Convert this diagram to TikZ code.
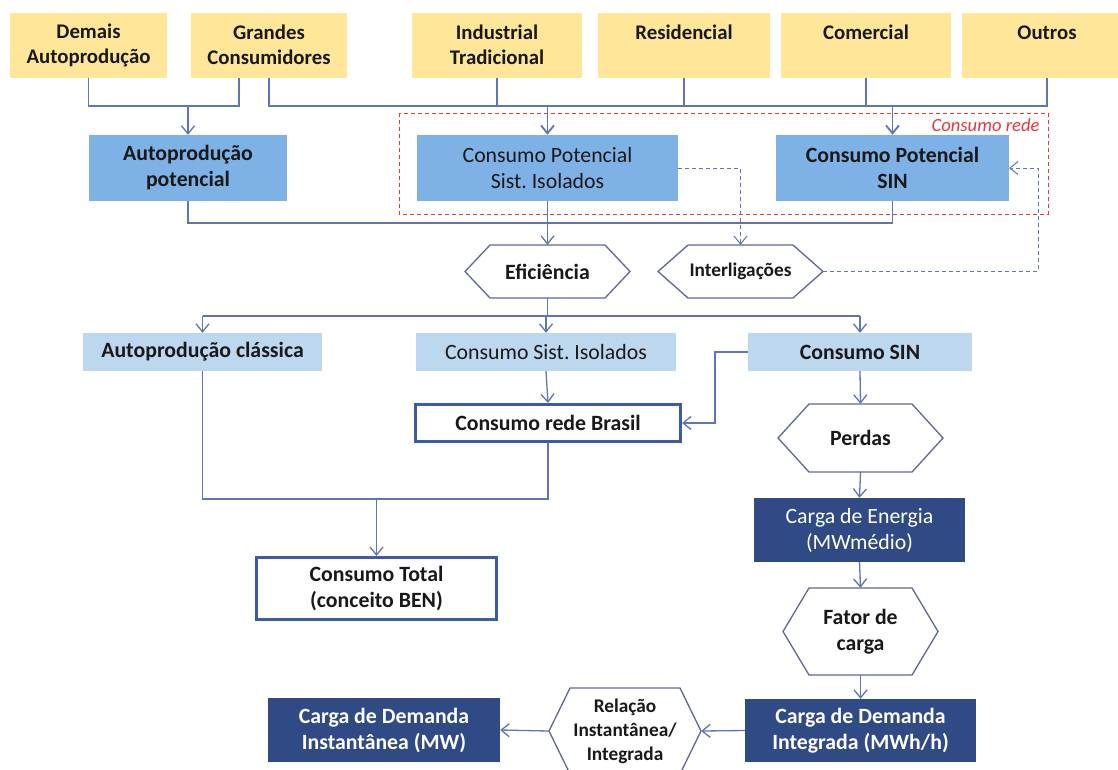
\documentclass[tikz,border=0pt]{standalone}
\usepackage{fontspec}
\setmainfont{Carlito}
\usetikzlibrary{arrows.meta}
\definecolor{amarelo}{HTML}{FFE699}
\definecolor{azul}{HTML}{7EB2E6}
\definecolor{azulclaro}{HTML}{BDD7EE}
\definecolor{marinho}{HTML}{2F4A85}
\definecolor{linha}{HTML}{6074B8}
\definecolor{borda}{HTML}{3D5CA8}
\definecolor{hexborda}{HTML}{5F6894}
\definecolor{vermelho}{HTML}{E8383D}
\newcommand{\hexa}[8][]{%
  \draw[hexline] ({#3-#5},#4) -- ({#3-#5+#7},{#4-#6}) -- ({#3+#5-#7},{#4-#6}) -- ({#3+#5},#4)
    -- ({#3+#5-#7},{#4+#6}) -- ({#3-#5+#7},{#4+#6}) -- cycle;
  \node[hextext, #1, minimum width={2*#5pt}, minimum height={2*#6pt}] (#2) at (#3,#4) {#8};}
\begin{document}
\begin{tikzpicture}[x=1pt, y=-1pt,
  every node/.style={font=\fontsize{21.8}{26}\selectfont, text=black!90},
  neg/.style={font=\fontsize{21.8}{26}\selectfont\bfseries},
  menor/.style={font=\fontsize{19.3}{24}\selectfont\bfseries},
  amar/.style={fill=amarelo, inner sep=0, align=center, minimum height=65pt, font=\fontsize{20.8}{25}\selectfont\bfseries},
  pot/.style={fill=azul, inner sep=0, align=center, minimum height=66pt},
  cla/.style={fill=azulclaro, inner sep=0, minimum height=38pt},
  rede/.style={draw=borda, line width=3pt, fill=white, inner sep=0, align=center, neg},
  escuro/.style={fill=marinho, inner sep=0, align=center, text=white},
  hexline/.style={draw=hexborda, line width=1.3pt, fill=white},
  hextext/.style={inner sep=0, align=center, neg},
  lig/.style={draw=linha, line width=1.3pt},
  seta/.style={lig, -{Straight Barb[length=8pt, width=13pt]}},
  trac/.style={draw=linha, line width=1pt, dash pattern=on 4pt off 3pt, -{Straight Barb[length=8pt, width=13pt]}}]
\path[fill=white, use as bounding box] (0,0) rectangle (1118,769);
\node[amar, minimum width=157pt] (dem) at (88.5,45) {Demais\\Autoprodução};
\node[amar, minimum width=156pt] (gra) at (269,45) {Grandes\\Consumidores};
\node[amar, minimum width=170pt] (ind) at (497,45) {Industrial\\Tradicional};
\node[amar, minimum width=172pt] (res) at (684,45) {Residencial\\\mbox{}};
\node[amar, minimum width=170pt] (com) at (866,45) {Comercial\\\mbox{}};
\node[amar, minimum width=170pt] (out) at (1047,45) {Outros\\\mbox{}};
\draw[vermelho, line width=1pt, dash pattern=on 4pt off 3pt] (399,113) rectangle (1048,214);
\node[text=vermelho, anchor=east, font=\fontsize{18.6}{22}\selectfont\itshape] (cr) at (1043,125) {Consumo rede};
\node[pot, neg, minimum width=198pt] (autpot) at (188,168) {Autoprodução\\potencial};
\node[pot, minimum width=261pt] (cpsi) at (547.5,168) {Consumo Potencial\\Sist.\ Isolados};
\node[pot, neg, minimum width=233pt] (cpsin) at (892.5,168) {Consumo Potencial\\SIN};
\hexa{efi}{547.5}{271.5}{82.5}{26.5}{25}{Eficiência}
\hexa[menor]{intl}{740.5}{271.5}{82.5}{26.5}{30}{Interligações}
\node[cla, neg, minimum width=239pt] (autcla) at (202.5,352) {Autoprodução clássica};
\node[cla, minimum width=260pt] (csi) at (546,352) {Consumo Sist.\ Isolados};
\node[cla, neg, minimum width=224pt] (csin) at (860,352) {Consumo SIN};
\node[rede, minimum width=265pt, minimum height=37pt] (crb) at (548,423) {Consumo rede Brasil};
\node[rede, minimum width=240pt, minimum height=62pt] (ct) at (376.5,588.5) {Consumo Total\\(conceito BEN)};
\hexa{per}{860.5}{438}{82.5}{34}{31}{Perdas}
\node[escuro, minimum width=211pt, minimum height=64pt] (ce) at (859.5,530) {Carga de Energia\\(MWmédio)};
\hexa{fat}{860.5}{631.5}{77.5}{43.5}{26}{Fator de\\carga}
\node[escuro, neg, minimum width=231pt, minimum height=63pt] (cdi) at (860.5,730.5) {Carga de Demanda\\Integrada (MWh/h)};
\hexa[menor]{rel}{625}{731}{76}{43}{21}{Relação\\Instantânea/\\Integrada}
\node[escuro, neg, minimum width=232pt, minimum height=64pt] (cdinst) at (384,730) {Carga de Demanda\\Instantânea (MW)};
\coordinate (j1) at (239,106);
\coordinate (j2) at (269,106);
\coordinate (j3) at (0,223);
\coordinate (j4) at (0,316);
\coordinate (j5) at (0,499);
\coordinate (d1) at (1038,271.5);
\coordinate (d2) at (715,0);
\draw[lig] (dem.south) |- (j1) -- (j1 |- gra.south);
\draw[seta] (autpot.north |- j1) -- (autpot.north);
\draw[lig] (gra.south) -- (j2) -- (out.south |- j2) -- (out.south);
\foreach \n in {ind,res,com}
  \draw[lig] (\n.south) -- (\n.south |- j2);
\draw[seta, line width=1.8pt] (cpsi.north |- j2) -- (cpsi.north);
\draw[seta, line width=1.8pt] (cpsin.north |- j2) -- (cpsin.north);
\draw[lig] (autpot.south) |- (cpsin.south |- j3) -- (cpsin.south);
\draw[seta] (cpsi.south) -- (efi.north);
\draw[trac] (cpsi.east) -| (intl.north);
\draw[trac] (intl.east) -- (d1) |- (cpsin.east);
\draw[lig] (efi.south) -- (efi.south |- j4);
\draw[lig] (autcla.north |- j4) -- (csin.north |- j4);
\foreach \n in {autcla,csi,csin}
  \draw[seta] (\n.north |- j4) -- (\n.north);
\draw[seta] (csi.south) -- (crb.north);
\draw[seta] (csin.west) -- (csin.west -| d2) |- (crb.east);
\draw[lig] (autcla.south) |- (crb.south |- j5) -- (crb.south);
\draw[seta] (ct.north |- j5) -- (ct.north);
\draw[seta] (csin.south) -- (per.north);
\draw[seta] (per.south) -- (ce.north);
\draw[seta] (ce.south) -- (fat.north);
\draw[seta] (fat.south) -- (cdi.north);
\draw[seta] (cdi.west) -- (rel.east);
\draw[seta] (rel.west) -- (cdinst.east);
\end{tikzpicture}
\end{document}
